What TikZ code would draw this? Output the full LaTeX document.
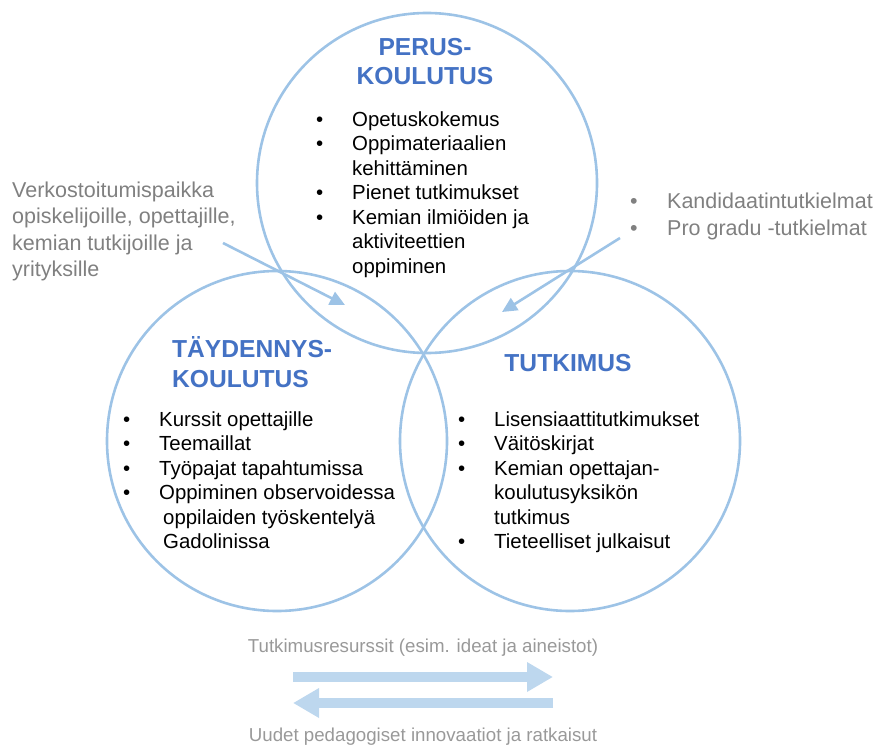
\documentclass[tikz,border=0pt]{standalone}
\usepackage{fontspec}
\setmainfont{Liberation Sans}
\usetikzlibrary{arrows.meta}
\definecolor{ringblue}{HTML}{9DC3E6}
\definecolor{headblue}{HTML}{4472C4}
\definecolor{flowblue}{HTML}{BDD7EE}
\definecolor{notegray}{HTML}{808080}
\definecolor{flowgray}{HTML}{999999}
\newcommand{\bul}[1]{\makebox[36pt][l]{\textbullet}#1}
\newcommand{\cont}[1]{\hspace*{36pt}#1}
\tikzset{
  ring/.style={circle,draw=ringblue,line width=2.6pt,minimum size=340pt,inner sep=0pt},
  heading/.style={text=headblue,font=\fontsize{24.6}{29.5}\selectfont\bfseries,inner sep=0pt},
  itemlist/.style={font=\fontsize{20.4}{24.5}\selectfont,align=left,inner sep=0pt,anchor=base west},
  note/.style={text=notegray,font=\fontsize{21.5}{26.5}\selectfont,align=left,inner sep=0pt,anchor=base west},
  flowtext/.style={text=flowgray,font=\fontsize{18.7}{22}\selectfont,inner sep=0pt,anchor=base},
  flow/.style={draw=flowblue,line width=10pt,line cap=butt,-{Triangle[length=26pt,width=28pt]}},
  pointer/.style={draw=ringblue,line width=2.6pt,-{Triangle[length=15pt,width=14pt]}}
}
\begin{document}
\begin{tikzpicture}[x=1pt,y=-1pt,line join=round]
\useasboundingbox (0,0) rectangle (880,746);
% three circles
\node[ring] (perus) at (427,183) {};
\node[ring] (taydennys) at (277,441) {};
\node[ring] (tutkimus) at (570,441) {};
% headings (base = last line)
\node[heading,align=center,anchor=base] (perushead) at (425,85) {PERUS-\\KOULUTUS};
\node[heading,align=left,anchor=base west] (taydhead) at (172,387) {TÄYDENNYS-\\KOULUTUS};
\node[heading,anchor=base] (tutkhead) at (568,371) {TUTKIMUS};
% lists
\node[itemlist] (peruslist) at (316,273) {\bul{Opetuskokemus}\\\bul{Oppimateriaalien}\\\cont{kehittäminen}\\\bul{Pienet tutkimukset}\\\bul{Kemian ilmiöiden ja}\\\cont{aktiviteettien}\\\cont{oppiminen}};
\node[itemlist] (taydlist) at (123,548.5) {\bul{Kurssit opettajille}\\\bul{Teemaillat}\\\bul{Työpajat tapahtumissa}\\\bul{Oppiminen observoidessa}\\\hspace*{40pt}oppilaiden työskentelyä\\\hspace*{40pt}Gadolinissa};
\node[itemlist] (tutklist) at (458,548.5) {\bul{Lisensiaattitutkimukset}\\\bul{Väitöskirjat}\\\bul{Kemian opettajan-}\\\cont{koulutusyksikön}\\\cont{tutkimus}\\\bul{Tieteelliset julkaisut}};
% side notes
\node[note] (verkosto) at (12,276.5) {Verkostoitumispaikka\\opiskelijoille, opettajille,\\kemian tutkijoille ja\\yrityksille};
\node[note] (gradut) at (630,235) {\makebox[37pt][l]{\textbullet}Kandidaatintutkielmat\\\makebox[37pt][l]{\textbullet}Pro gradu -tutkielmat};
\coordinate (verkostoend) at (223,243);
\coordinate (verkostotip) at (345,305);
\coordinate (gradutend) at (620,238);
\coordinate (graduttip) at (502,312);
\draw[pointer] (verkostoend) -- (verkostotip);
\draw[pointer] (gradutend) -- (graduttip);
% resources both ways
\node[flowtext] (resurssit) at (423,652) {Tutkimusresurssit (esim. ideat ja aineistot)};
\node[flowtext] (innovaatiot) at (423,741) {Uudet pedagogiset innovaatiot ja ratkaisut};
\coordinate (flowwest) at (293,677);
\coordinate (floweast) at (553,677);
\coordinate (backeast) at (553,703);
\coordinate (backwest) at (293,703);
\draw[flow] (flowwest) -- (floweast);
\draw[flow] (backeast) -- (backwest);
\end{tikzpicture}
\end{document}
